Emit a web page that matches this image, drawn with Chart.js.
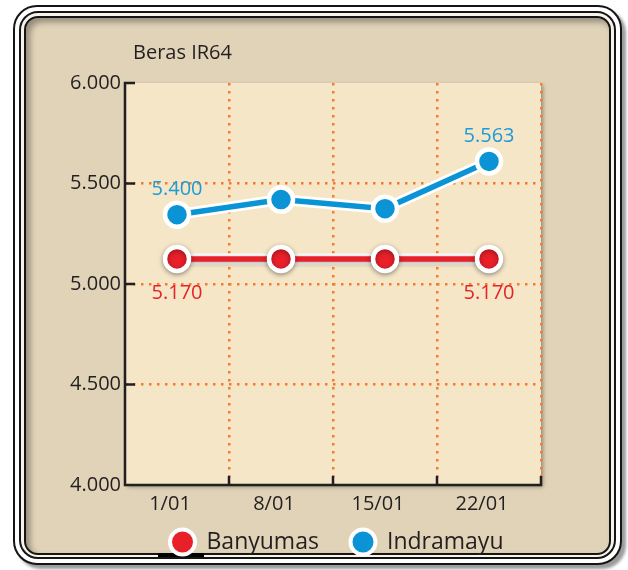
<!DOCTYPE html>
<html>
<head>
<meta charset="utf-8">
<script src="https://cdn.jsdelivr.net/npm/chart.js@4.4.0/dist/chart.umd.min.js"></script>
<style>
html,body{margin:0;padding:0;background:#fff;}
#wrap{position:relative;width:628px;height:570px;overflow:hidden;background:#fff;}
.fr{position:absolute;box-sizing:border-box;}
#f1{left:13px;top:5px;width:609px;height:560px;border:2px solid #151515;border-radius:24px;background:#fff;box-shadow:4px 4px 3px #9c9c9c;}
#f2{left:19px;top:11px;width:597px;height:548px;border:2px solid #151515;border-radius:19px;background:#f7f3ea;}
#f3{left:24px;top:16px;width:587px;height:539px;border:2px solid #151515;border-radius:14px;background:#e0d3b8;box-shadow:inset 4px 4px 6px rgba(0,0,0,0.35);}
#mark{left:158px;top:553px;width:46px;height:4px;background:#000;}
canvas{position:absolute;left:0;top:0;}
</style>
</head>
<body>
<div id="wrap">
  <div class="fr" id="f1"></div>
  <div class="fr" id="f2"></div>
  <div class="fr" id="f3"></div>
  <div class="fr" id="mark"></div>
  <canvas id="c" width="628" height="570"></canvas>
</div>
<script>
// ---- data ----
const chartTitle = 'Beras IR64';
const categories = ['1/01', '8/01', '15/01', '22/01'];
const seriesNames = ['Banyumas', 'Indramayu'];
const banyumas = [5125, 5125, 5125, 5125];
const indramayu = [5345, 5420, 5375, 5610];
const banyumasLabels = ['5.170', '', '', '5.170'];
const indramayuLabels = ['5.400', '', '', '5.563'];
const yTicks = [4000, 4500, 5000, 5500, 6000];
const yTickLabels = ['4.000', '4.500', '5.000', '5.500', '6.000'];

const RED = '#e8202a';
const BLUE = '#0a93d5';
const INK = '#231f20';
const GRID = '#f47c2c';
const FONT = "'Open Sans', sans-serif";

Chart.defaults.font.family = FONT;

const bgPlugin = {
  id: 'plotBg',
  beforeDraw(chart) {
    const {ctx, chartArea: a} = chart;
    ctx.save();
    ctx.shadowColor = 'rgba(0,0,0,0.35)';
    ctx.shadowBlur = 4; ctx.shadowOffsetX = 2; ctx.shadowOffsetY = 2;
    ctx.fillStyle = '#f5e6c8';
    ctx.fillRect(a.left, a.top, a.right - a.left, a.bottom - a.top);
    ctx.restore();
  }
};

const axisPlugin = {
  id: 'axes',
  beforeDatasetsDraw(chart) {
    const {ctx, chartArea: a, scales: {x, y}} = chart;
    ctx.save();
    ctx.strokeStyle = INK; ctx.lineWidth = 2.5; ctx.lineCap = 'butt';
    ctx.beginPath();
    ctx.moveTo(a.left, a.top - 1.25); ctx.lineTo(a.left, a.bottom + 1.25);
    ctx.moveTo(a.left - 1.25, a.bottom); ctx.lineTo(a.right + 1.25, a.bottom);
    y.ticks.forEach(t => {
      const py = y.getPixelForValue(t.value);
      ctx.moveTo(a.left, py); ctx.lineTo(a.left + 10, py);
    });
    for (let i = 0; i < categories.length; i++) {
      const px = x.getPixelForValue(i + 0.5);
      ctx.moveTo(px, a.bottom); ctx.lineTo(px, a.bottom - 9);
    }
    ctx.stroke();
    ctx.restore();
  }
};

const shadowPlugin = {
  id: 'pointShadow',
  beforeDatasetDraw(chart, args) {
    if (args.index === 2) {
      const ctx = chart.ctx;
      ctx.save();
      ctx.shadowColor = 'rgba(0,0,0,0.35)';
      ctx.shadowBlur = 5; ctx.shadowOffsetY = 1.5;
    }
  },
  afterDatasetDraw(chart, args) {
    if (args.index === 2) chart.ctx.restore();
  }
};

const labelPlugin = {
  id: 'valueLabels',
  afterDatasetsDraw(chart) {
    const ctx = chart.ctx;
    ctx.save();
    ctx.font = "20px " + FONT;
    ctx.textAlign = 'center'; ctx.textBaseline = 'alphabetic';
    const specs = [
      {ds: 2, texts: banyumasLabels, color: '#e52329', dy: 40},
      {ds: 3, texts: indramayuLabels, color: '#1b9bd7', dy: -19.5}
    ];
    specs.forEach(s => {
      const meta = chart.getDatasetMeta(s.ds);
      meta.data.forEach((pt, i) => {
        const t = s.texts[i];
        if (!t) return;
        ctx.fillStyle = s.color;
        ctx.fillText(t, pt.x, pt.y + s.dy);
      });
    });
    ctx.restore();
  }
};

const decorPlugin = {
  id: 'titleLegend',
  afterDraw(chart) {
    const ctx = chart.ctx;
    ctx.save();
    ctx.fillStyle = INK;
    ctx.font = "20px " + FONT;
    ctx.textAlign = 'left'; ctx.textBaseline = 'alphabetic';
    ctx.fillText(chartTitle, 133, 59);
    // legend
    const markerX = [182.5, 363];
    const mains = [2, 3];
    ctx.font = "23px " + FONT;
    mains.forEach((dsIndex, k) => {
      const ds = chart.data.datasets[dsIndex];
      const cx = markerX[k], cy = 542;
      ctx.beginPath();
      ctx.arc(cx, cy, 12.5, 0, Math.PI * 2);
      ctx.fillStyle = ds.pointBackgroundColor;
      ctx.fill();
      ctx.lineWidth = 4; ctx.strokeStyle = '#ffffff';
      ctx.stroke();
      ctx.fillStyle = INK;
      ctx.fillText(ds.label, cx + 24, 549);
    });
    ctx.restore();
  }
};

new Chart(document.getElementById('c'), {
  type: 'line',
  data: {
    labels: categories,
    datasets: [
      {label: seriesNames[0] + ' halo', data: banyumas, borderColor: '#ffffff', borderWidth: 11, pointRadius: 0, order: 2, tension: 0},
      {label: seriesNames[1] + ' halo', data: indramayu, borderColor: '#ffffff', borderWidth: 11, pointRadius: 0, order: 2, tension: 0},
      {label: seriesNames[0], data: banyumas, borderColor: RED, borderWidth: 5.5, pointRadius: 12, pointBorderWidth: 4.5,
       pointBackgroundColor: RED, pointBorderColor: '#ffffff', order: 1, tension: 0},
      {label: seriesNames[1], data: indramayu, borderColor: BLUE, borderWidth: 5.5, pointRadius: 12, pointBorderWidth: 4.5,
       pointBackgroundColor: BLUE, pointBorderColor: '#ffffff', order: 1, tension: 0}
    ]
  },
  options: {
    responsive: false,
    animation: false,
    devicePixelRatio: 1,
    events: [],
    layout: {padding: {left: 0, right: 87, top: 83, bottom: 49}},
    plugins: {legend: {display: false}, tooltip: {enabled: false}, title: {display: false}},
    scales: {
      x: {
        type: 'category',
        offset: true,
        grid: {
          offset: true, drawTicks: false, lineWidth: 2.5,
          color: c => (c.index === 0 || c.index === categories.length) ? 'rgba(0,0,0,0)' : GRID
        },
        border: {display: false, dash: [2.5, 5.5]},
        ticks: {padding: 7, labelOffset: -7, color: INK, font: {family: FONT, size: 20}, maxRotation: 0, autoSkip: false},
        afterFit: s => { s.height = 36; }
      },
      y: {
        min: yTicks[0], max: yTicks[yTicks.length - 1],
        afterBuildTicks: s => { s.ticks = yTicks.map(v => ({value: v})); },
        grid: {
          drawTicks: false, lineWidth: 2.5,
          color: c => (c.tick && (c.tick.value === yTicks[0] || c.tick.value === yTicks[yTicks.length - 1])) ? 'rgba(0,0,0,0)' : GRID
        },
        border: {display: false, dash: [2.5, 5.5]},
        ticks: {padding: 4, color: INK, font: {family: FONT, size: 20}, callback: v => yTickLabels[yTicks.indexOf(v)]},
        afterFit: s => { s.width = 125; }
      }
    }
  },
  plugins: [bgPlugin, axisPlugin, shadowPlugin, labelPlugin, decorPlugin]
});
</script>
</body>
</html>
